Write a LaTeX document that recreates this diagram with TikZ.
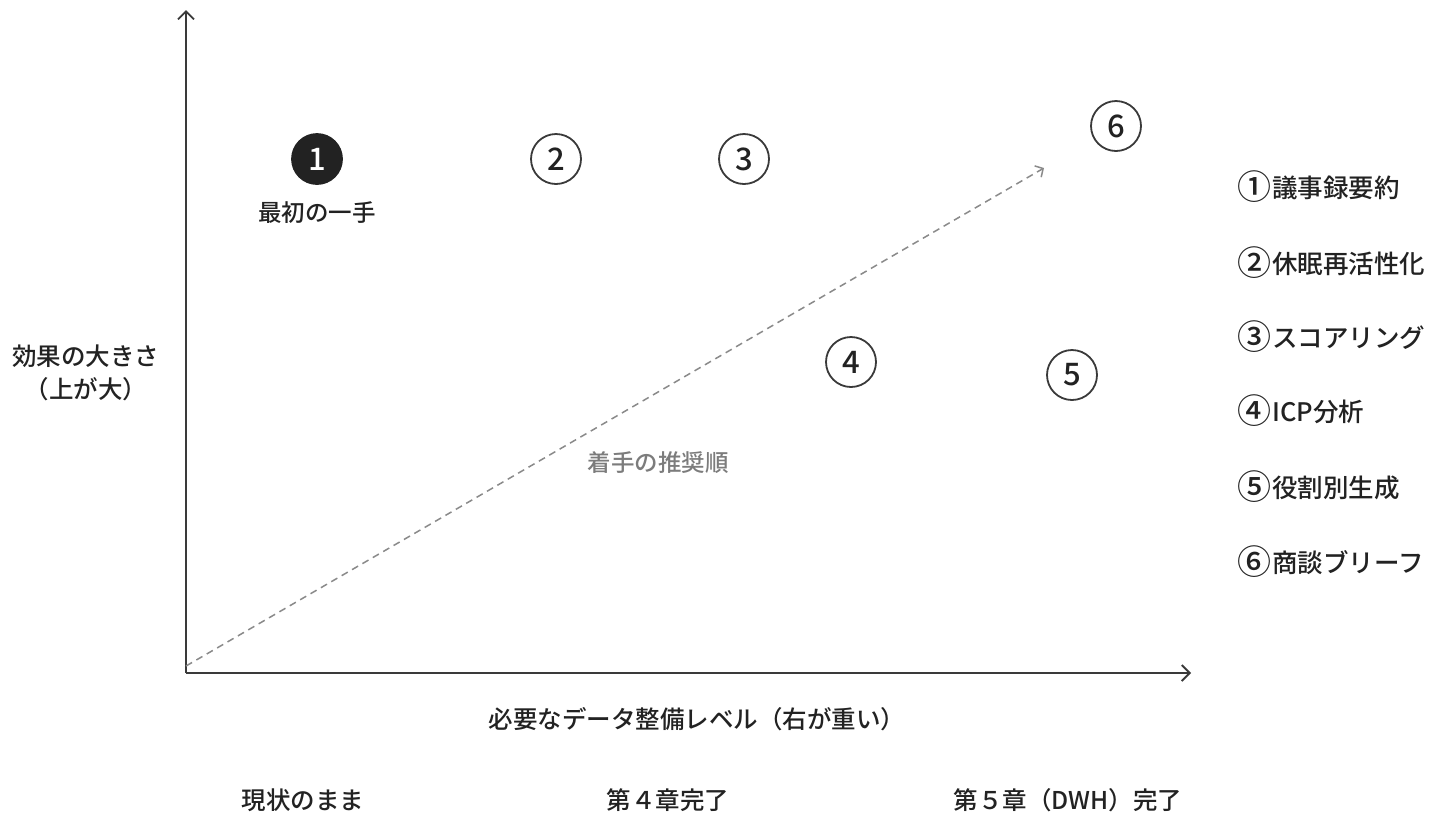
\documentclass[tikz,border=0pt]{standalone}
\usepackage{fontspec}
\setmainfont{Noto Sans CJK JP}[UprightFont=* Medium]
\usetikzlibrary{arrows.meta}
\definecolor{ink}{HTML}{222222}
\definecolor{axis}{HTML}{3A3A3A}
\definecolor{dash}{HTML}{8A8A8A}
\newcommand{\cnum}[1]{\raisebox{-0.09em}{\fontsize{34}{34}\selectfont #1}\hspace{1pt}}
\begin{document}
\begin{tikzpicture}[x=1pt,y=-1pt,
  txt/.style={text=ink,font=\fontsize{24.5}{29}\selectfont,inner sep=0pt},
  legend/.style={text=ink,font=\fontsize{25.5}{30}\selectfont,inner sep=0pt,anchor=west},
  numc/.style={circle,draw=axis,line width=1.8pt,minimum size=50pt,inner sep=0pt,fill=white,text=ink,font=\fontsize{31}{32}\selectfont},
  numf/.style={circle,fill=ink,draw=ink,line width=1.8pt,minimum size=50pt,inner sep=0pt,text=white,font=\fontsize{31}{32}\selectfont},
  axisline/.style={draw=axis,line width=1.8pt,-{Straight Barb[length=8pt,width=16pt,line width=1.8pt]}},
  dasharrow/.style={draw=dash,line width=1.5pt,dash pattern=on 7pt off 5pt,-{Straight Barb[length=6pt,width=13pt,line width=1.5pt]}}
]
\useasboundingbox[fill=white] (0,0) rectangle (1440,823);
% axes
\coordinate (o) at (186,673);
\coordinate (ytop) at (186,10);
\coordinate (xend) at (1191,673);
\coordinate (ds) at (186,666);
\coordinate (de) at (1044,168);
\draw[axisline] (o) -- (ytop);
\draw[axisline] (o) -- (xend);
\draw[dasharrow] (ds) -- (de);
% points
\node[numf] (n1) at (317,159) {1};
\node[numc] (n2) at (556,159) {2};
\node[numc] (n3) at (744,159) {3};
\node[numc] (n4) at (851,362) {4};
\node[numc] (n5) at (1072,375) {5};
\node[numc] (n6) at (1116,126) {6};
\node[txt,font=\fontsize{23.5}{28}\selectfont] (first) at (317,213) {最初の一手};
\node[txt,text=dash!90!black,font=\fontsize{23.5}{28}\selectfont] (order) at (658,463) {着手の推奨順};
% axis labels
\node[txt] (yl1) at (86,356) {効果の大きさ};
\node[txt] (yl2) at (86,389) {（上が大）};
\node[txt] (xl) at (697,719) {必要なデータ整備レベル（右が重い）};
\node[txt] (b1) at (303,800) {現状のまま};
\node[txt] (b2) at (668,800) {第４章完了};
\node[txt] (b3) at (1068,800) {第５章（DWH）完了};
% legend
\node[legend] (l1) at (1237,187) {\cnum{①}議事録要約};
\node[legend] (l2) at (1237,263) {\cnum{②}休眠再活性化};
\node[legend] (l3) at (1237,337) {\cnum{③}スコアリング};
\node[legend] (l4) at (1237,411) {\cnum{④}ICP分析};
\node[legend] (l5) at (1237,487) {\cnum{⑤}役割別生成};
\node[legend] (l6) at (1237,562) {\cnum{⑥}商談ブリーフ};
\end{tikzpicture}
\end{document}
